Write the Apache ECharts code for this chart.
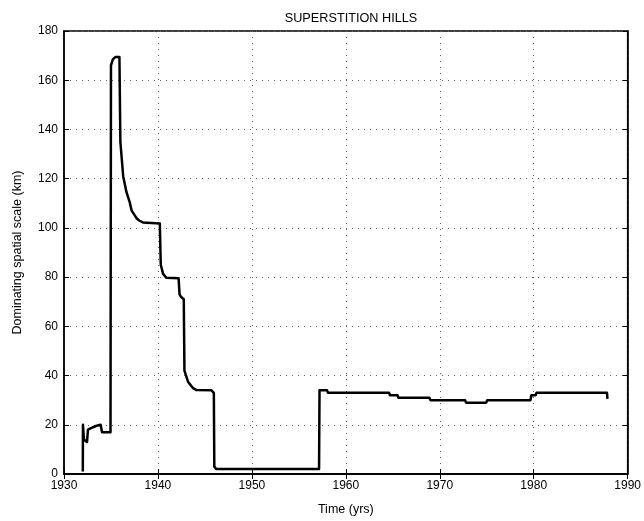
<!DOCTYPE html>
<html>
<head>
<meta charset="utf-8">
<script src="https://cdn.jsdelivr.net/npm/echarts@6/dist/echarts.min.js"></script>
<style>
  html, body { margin: 0; padding: 0; background: #fff; }
  #chart { width: 644px; height: 521px; }
</style>
</head>
<body>
<div id="chart"></div>
<script>
// Dominating spatial scale over time, Superstition Hills record
const years = [
  1932.0, 1932.02, 1932.12, 1932.45, 1932.55, 1933.1, 1933.4, 1933.9, 1934.05, 1934.95,
  1935.0, 1935.2, 1935.45, 1935.9, 1936.0, 1936.3, 1936.65, 1937.0, 1937.2, 1937.55,
  1937.75, 1938.0, 1938.4, 1940.2, 1940.3, 1940.55, 1940.9, 1942.2, 1942.3, 1942.45,
  1942.75, 1942.82, 1943.2, 1943.7, 1944.1, 1945.7, 1945.95, 1946.0, 1946.2, 1957.15,
  1957.2, 1958.0, 1958.1, 1964.6, 1964.7, 1965.5, 1965.6, 1968.9, 1969.0, 1972.7,
  1972.8, 1974.95, 1975.05, 1979.65, 1979.75, 1980.2, 1980.3, 1987.8, 1987.85
];
const scaleKm = [
  1, 20, 14, 13, 18, 19, 19.5, 20, 17, 17,
  166, 168.5, 169.4, 169.4, 135, 121, 114.5, 110.4, 107, 105,
  103.8, 103, 102.2, 101.8, 85, 81.3, 79.7, 79.5, 73, 72,
  71, 42, 37.5, 35, 34.1, 34, 33, 3, 2, 2,
  34, 34, 33, 33, 32, 32, 31, 31, 30, 30,
  29, 29, 30, 30, 32, 32, 33, 33, 30.5
];

const titleText = 'SUPERSTITION HILLS';
const xName = 'Time (yrs)';
const yName = 'Dominating spatial scale (km)';

const font = 'Liberation Sans, Arial, Helvetica, sans-serif';
const gridDots = { type: [1, 5], color: '#666', width: 1 };

const chart = echarts.init(document.getElementById('chart'), null, { renderer: 'canvas' });
chart.setOption({
  animation: false,
  backgroundColor: '#fff',
  title: {
    text: titleText,
    left: 346, top: 7, textAlign: 'center',
    textStyle: { fontFamily: font, fontSize: 12.7, fontWeight: 'normal', color: '#000' }
  },
  grid: { left: 64, top: 31, right: 15, bottom: 45, show: true, borderColor: '#000', borderWidth: 1.5 },
  xAxis: [{
    type: 'value', min: 1930, max: 1990, interval: 10,
    name: xName, nameLocation: 'middle', nameGap: 29,
    nameTextStyle: { fontFamily: font, fontSize: 12.5, color: '#000' },
    axisLine: { lineStyle: { color: '#000', width: 1.5 } },
    axisTick: { inside: true, length: 5, lineStyle: { color: '#000' } },
    axisLabel: { fontFamily: font, fontSize: 12, color: '#000', margin: 6, formatter: v => String(v) },
    splitLine: { show: true, lineStyle: gridDots }
  }, {
    type: 'value', min: 1930, max: 1990, interval: 10, position: 'top',
    axisLine: { lineStyle: { color: '#000', width: 1.5 } },
    axisTick: { inside: true, length: 5, lineStyle: { color: '#000' } },
    axisLabel: { show: false }, splitLine: { show: false }
  }],
  yAxis: [{
    type: 'value', min: 0, max: 180, interval: 20,
    name: yName, nameLocation: 'middle', nameGap: 40, nameRotate: 90,
    nameTextStyle: { fontFamily: font, fontSize: 12.5, color: '#000' },
    axisLine: { show: true, lineStyle: { color: '#000', width: 1.5 } },
    axisTick: { show: true, inside: true, length: 5, lineStyle: { color: '#000' } },
    axisLabel: { fontFamily: font, fontSize: 12, color: '#000', margin: 6 },
    splitLine: { show: true, lineStyle: gridDots }
  }, {
    type: 'value', min: 0, max: 180, interval: 20, position: 'right',
    axisLine: { show: true, lineStyle: { color: '#000', width: 1.5 } },
    axisTick: { show: true, inside: true, length: 5, lineStyle: { color: '#000' } },
    axisLabel: { show: false }, splitLine: { show: false }
  }],
  series: [{
    type: 'line',
    xAxisIndex: 0, yAxisIndex: 0,
    data: years.map((y, i) => [y, scaleKm[i]]),
    showSymbol: false,
    lineStyle: { color: '#000', width: 2.5, join: 'round' }
  }]
});
</script>
</body>
</html>
